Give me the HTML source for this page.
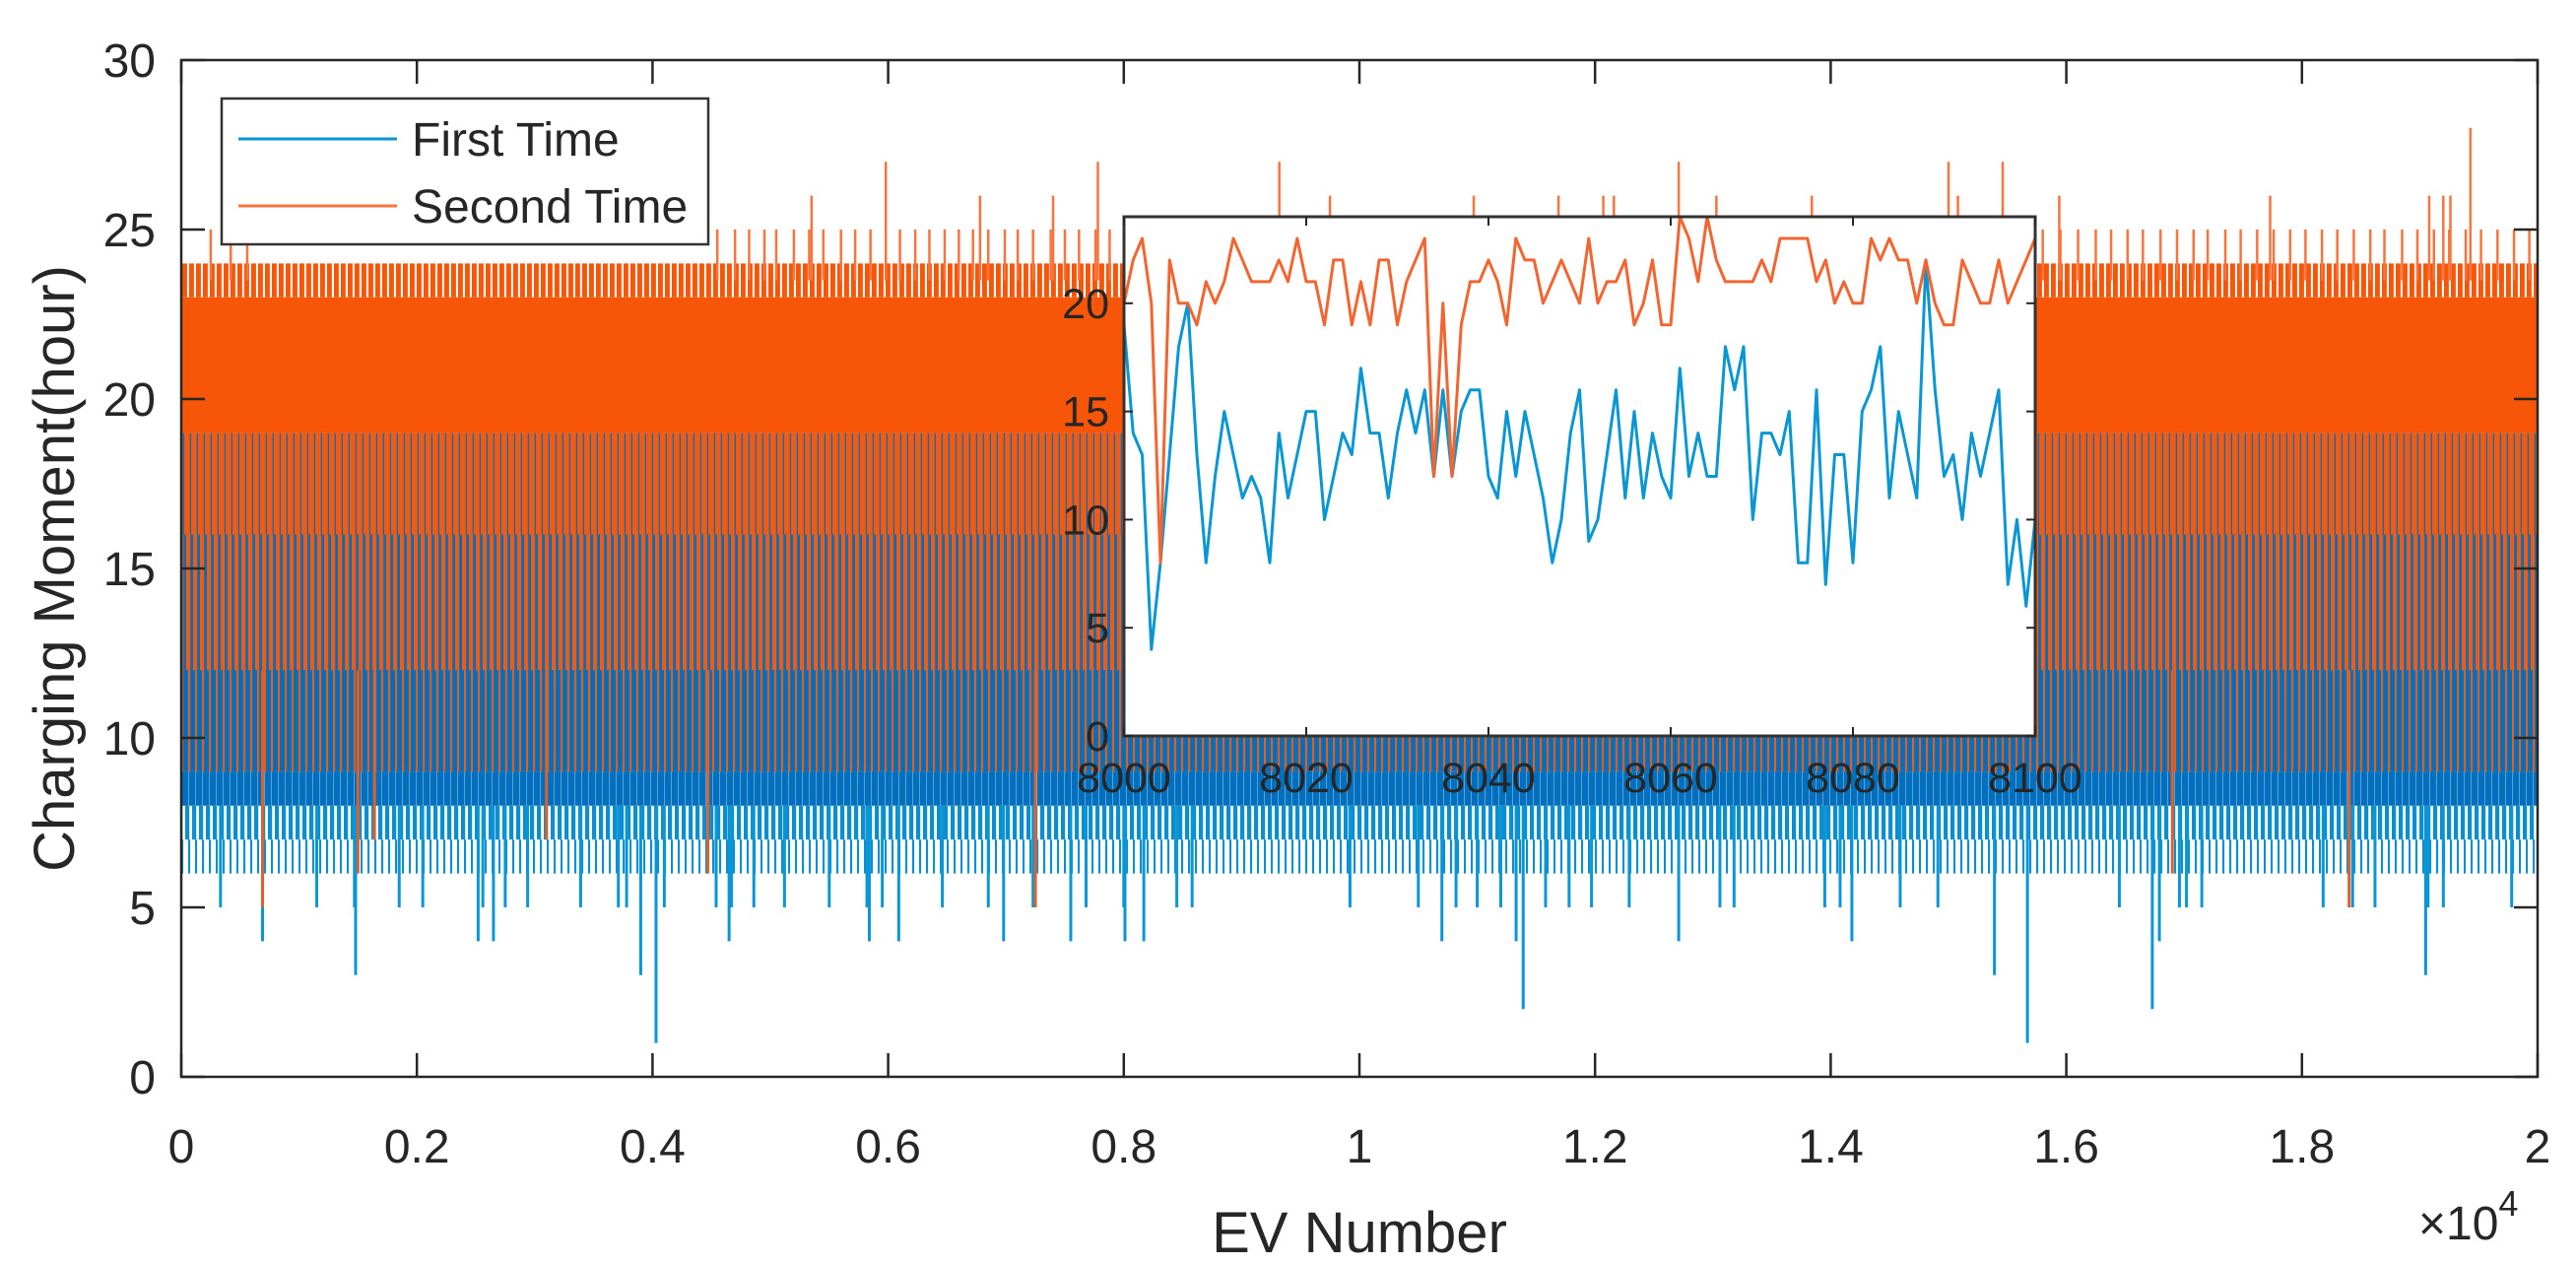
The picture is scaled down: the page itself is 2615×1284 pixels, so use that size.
<!DOCTYPE html>
<html><head><meta charset="utf-8"><style>
html,body{margin:0;padding:0;background:#fff;}
svg{display:block;}
text{font-family:"Liberation Sans",Arial,sans-serif;fill:#262626;}
</style></head><body>
<svg id="chart" width="2615" height="1284" viewBox="0 0 2615 1284" xmlns="http://www.w3.org/2000/svg">
<defs>
<clipPath id="mainClip"><rect x="184" y="61" width="2392" height="1032"/></clipPath>
<clipPath id="insetClip"><rect x="1141" y="220" width="925" height="527"/></clipPath>
</defs>
<rect x="0" y="0" width="2615" height="1284" fill="#fff"/>
<g id="mainData" clip-path="url(#mainClip)"></g>
<g id="mainAxes"></g>
<g id="inset"></g>
<g id="legend"></g>
</svg>
<script>
// ---------- main chart data ----------
const xTicks = [0,2000,4000,6000,8000,10000,12000,14000,16000,18000,20000];
const xTickLabels = ["0","0.2","0.4","0.6","0.8","1","1.2","1.4","1.6","1.8","2"];
const yTicks = [0,5,10,15,20,25,30];
const yTickLabels = ["0","5","10","15","20","25","30"];

// dense band structure (hours) for First Time
const blueBandLo = [9,8,7,6];
const blueBandHi = [19,9,8,7];
const blueBandShare = [1,0.95,0.6,0.3];
// dense band structure for Second Time
const orangeBandLo = [19,23,16,12,9];
const orangeBandHi = [23,24,19,16,12];
const orangeBandShare = [1,0.7,0.82,0.6,0.3];

// First Time low spikes
const blue5EV = [333,1150,1470,1850,2050,2560,2750,2940,3390,3710,3780,4100,4540,4670,4860,5120,5500,5820,5950,6460,6850,7230,7680,8000,8450,8580,9920,10500,10820,11000,11200,11580,11780,11970,12290,13060,13180,13950,14080,14590,14910,16450,16960,17020,17150,18180,18430,18620,19070,19200,19780];
const blue4EV = [690,2520,2650,4650,5840,6090,6980,7550,8010,8170,10700,11330,12710,14180,16790];
const blue3EV = [1480,3900,15390,19050];
const blue2EV = [11390,16730];
const blue1EV = [4030,15670];
// Second Time spikes
const orange25EV = [250,420,560,4550,4700,4820,4950,5050,5200,5330,5450,5600,5720,5850,5980,6100,6230,6350,6480,6600,6720,6850,6990,7100,7230,7380,7500,7620,7760,7880,15800,15950,16100,16250,16380,16520,16650,16800,16940,17080,17200,17350,17480,17620,17760,17900,18030,18170,18300,18440,18580,18700,18850,18980,19120,19250,19390,19520,19660,19800,19930];
const orange26EV = [5350,6780,7400,9750,10970,11690,12070,12160,13030,13840,15080,15940,17730,19080,19200,19260];
const orange27EV = [5980,7780,9320,12710,15000,15460];
const orange28EV = [19430];
const orangeLowEV = [690,1500,4470,7250,16900,18400,1640,3100];
const orangeLowVal = [5,6,6,5,6,5,7,7];

// ---------- inset data ----------
const insetXTicks = [8000,8020,8040,8060,8080,8100];
const insetYTicks = [0,5,10,15,20];
const insetFirst = [19,14,13,4,8,13,18,20,13,8,12,15,13,11,12,11,8,14,11,13,15,15,10,12,14,13,17,14,14,11,14,16,14,16,12,16,12,15,16,16,12,11,15,12,15,13,11,8,10,14,16,9,10,13,16,11,15,11,14,12,11,17,12,14,12,12,18,16,18,10,14,14,13,15,8,8,16,7,13,13,8,15,16,18,11,15,13,11,22,16,12,13,10,14,12,14,16,7,10,6,10];
const insetSecond = [20,22,23,20,8,22,20,20,19,21,20,21,23,22,21,21,21,22,21,23,21,21,19,22,22,19,21,19,22,22,19,21,22,23,12,20,12,19,21,21,22,21,19,23,22,22,20,21,22,21,20,23,20,21,21,22,19,20,22,19,19,24,23,21,24,22,21,21,21,21,22,21,23,23,23,23,21,22,20,21,20,20,23,22,23,22,22,20,22,20,19,19,22,21,20,20,22,20,21,22,23];

// ---------- helpers ----------
const NS = "http://www.w3.org/2000/svg";
const X0=184, X1=2576, Y0=1093, Y1=61;
const xScale = v => X0 + (v-0)/(20000-0)*(X1-X0);
const yScale = v => Y0 - (v-0)/(30-0)*(Y0-Y1);
const IX0=1141, IX1=2066, IY0=747, IY1=220;
const ixScale = v => IX0 + (v-8000)/100*(IX1-IX0);
const iyScale = v => IY0 - v/24*(IY0-IY1);
function mk(tag, attrs, parent){const e=document.createElementNS(NS,tag);for(const k in attrs)e.setAttribute(k,attrs[k]);parent.appendChild(e);return e;}

const svg = document.getElementById('chart');
const defs = svg.querySelector('defs');
const main = document.getElementById('mainData');

function band(lo,hi,share,color,id,offset){
  const period=7;
  const p=mk('pattern',{id:id,patternUnits:'userSpaceOnUse',width:period,height:10,x:offset},defs);
  mk('rect',{x:0,y:0,width:period*share,height:10,fill:color},p);
  const r=mk('rect',{x:X0,y:yScale(hi),width:X1-X0,height:yScale(lo)-yScale(hi),fill:share>=1?color:'url(#'+id+')'},main);
  return r;
}
// blue bands
for(let i=0;i<blueBandLo.length;i++){
  const r=band(blueBandLo[i],blueBandHi[i],blueBandShare[i],i<=1?'#0070BE':'#0A8ED0','bp'+i,i*3);
  
  
}
function spikes(list, from, to, color, name, w){
  list.forEach(ev=>{
    const l=mk('line',{x1:xScale(ev),x2:xScale(ev),y1:yScale(from),y2:yScale(to),stroke:color,'stroke-width':w},main);
    
    
  });
}
spikes(blue5EV,8,5,'#0A96D6','first-time-spike',3);
spikes(blue4EV,8,4,'#0A96D6','first-time-spike',3);
spikes(blue3EV,8,3,'#0A96D6','first-time-spike',3);
spikes(blue2EV,8,2,'#0A96D6','first-time-spike',3);
spikes(blue1EV,8,1,'#0A96D6','first-time-spike',3);
// orange bands
for(let i=0;i<orangeBandLo.length;i++){
  const r=band(orangeBandLo[i],orangeBandHi[i],orangeBandShare[i],i<=1?'#F75508':'#F05A12','op'+i,i*2+1);
  
  
}
orangeLowEV.forEach((ev,i)=>{
  const l=mk('line',{x1:xScale(ev),x2:xScale(ev),y1:yScale(12),y2:yScale(orangeLowVal[i]),stroke:'#E0602A','stroke-width':3},main);
  
  
});
spikes(orange25EV,23.5,25,'#F7743F','second-time-spike',2.5);
spikes(orange26EV,23.5,26,'#F7743F','second-time-spike',2.5);
spikes(orange27EV,23.5,27,'#F7743F','second-time-spike',2.5);
spikes(orange28EV,23.5,28,'#F7743F','second-time-spike',2.5);

// ---------- main axes ----------
const ax=document.getElementById('mainAxes');
const box=mk('rect',{x:X0,y:Y1,width:X1-X0,height:Y0-Y1,fill:'none',stroke:'#262626','stroke-width':2.5},ax);


xTicks.forEach((t,i)=>{
  const x=xScale(t);
  mk('line',{x1:x,x2:x,y1:Y0,y2:Y0-24,stroke:'#262626','stroke-width':2.5},ax);
  mk('line',{x1:x,x2:x,y1:Y1,y2:Y1+24,stroke:'#262626','stroke-width':2.5},ax);
  const tx=mk('text',{x:x,y:1180,'font-size':48,'text-anchor':'middle'},ax);
  tx.textContent=xTickLabels[i];
  
  
});
yTicks.forEach((t,i)=>{
  const y=yScale(t);
  mk('line',{x1:X0,x2:X0+24,y1:y,y2:y,stroke:'#262626','stroke-width':2.5},ax);
  mk('line',{x1:X1,x2:X1-24,y1:y,y2:y,stroke:'#262626','stroke-width':2.5},ax);
  const tx=mk('text',{x:158,y:y+17,'font-size':48,'text-anchor':'end'},ax);
  tx.textContent=yTickLabels[i];
  
  
});
const xl=mk('text',{x:1380,y:1271,'font-size':58,'text-anchor':'middle'},ax);
xl.textContent='EV Number';


const yl=mk('text',{x:0,y:0,'font-size':58,'text-anchor':'middle',transform:'translate(75,577) rotate(-90)'},ax);
yl.textContent='Charging Moment(hour)';


const ex=mk('text',{x:2455,y:1258,'font-size':48},ax);
ex.innerHTML='×10<tspan font-size="36" dy="-24">4</tspan>';



// ---------- inset ----------
const ins=document.getElementById('inset');
const ib=mk('rect',{x:IX0,y:IY1,width:IX1-IX0,height:IY0-IY1,fill:'#fff'},ins);


const ig=mk('g',{'clip-path':'url(#insetClip)'},ins);
function insetLine(vals,color,name){
  const pts=vals.map((v,i)=>ixScale(8000+i).toFixed(1)+','+iyScale(v).toFixed(1)).join(' ');
  const p=mk('polyline',{points:pts,fill:'none',stroke:color,'stroke-width':3,'stroke-linejoin':'round'},ig);
  
  
}
insetLine(insetFirst,'#0A96D2','inset-first-time-line');
insetLine(insetSecond,'#F26530','inset-second-time-line');
const ibox=mk('rect',{x:IX0,y:IY1,width:IX1-IX0,height:IY0-IY1,fill:'none',stroke:'#333','stroke-width':3},ins);


insetXTicks.forEach(t=>{
  const x=ixScale(t);
  mk('line',{x1:x,x2:x,y1:IY0,y2:IY0-9,stroke:'#262626','stroke-width':2},ins);
  mk('line',{x1:x,x2:x,y1:IY1,y2:IY1+9,stroke:'#262626','stroke-width':2},ins);
  const tx=mk('text',{x:x,y:804,'font-size':43,'text-anchor':'middle'},ins);
  tx.textContent=String(t);
  
  
});
insetYTicks.forEach(t=>{
  const y=iyScale(t);
  mk('line',{x1:IX0,x2:IX0+9,y1:y,y2:y,stroke:'#262626','stroke-width':2},ins);
  mk('line',{x1:IX1,x2:IX1-9,y1:y,y2:y,stroke:'#262626','stroke-width':2},ins);
  const tx=mk('text',{x:1126,y:y+15,'font-size':43,'text-anchor':'end'},ins);
  tx.textContent=String(t);
  
  
});

// ---------- legend ----------
const lg=document.getElementById('legend');
const lb=mk('rect',{x:225,y:100,width:494,height:148,fill:'#fff',stroke:'#333','stroke-width':2.5},lg);


const l1=mk('line',{x1:242,x2:403,y1:141,y2:141,stroke:'#0A96D2','stroke-width':3},lg);


const t1=mk('text',{x:418,y:158,'font-size':48},lg);
t1.textContent='First Time';


const l2=mk('line',{x1:242,x2:403,y1:209,y2:209,stroke:'#F7743F','stroke-width':3},lg);


const t2=mk('text',{x:418,y:226,'font-size':48},lg);
t2.textContent='Second Time';


</script>
</body></html>
